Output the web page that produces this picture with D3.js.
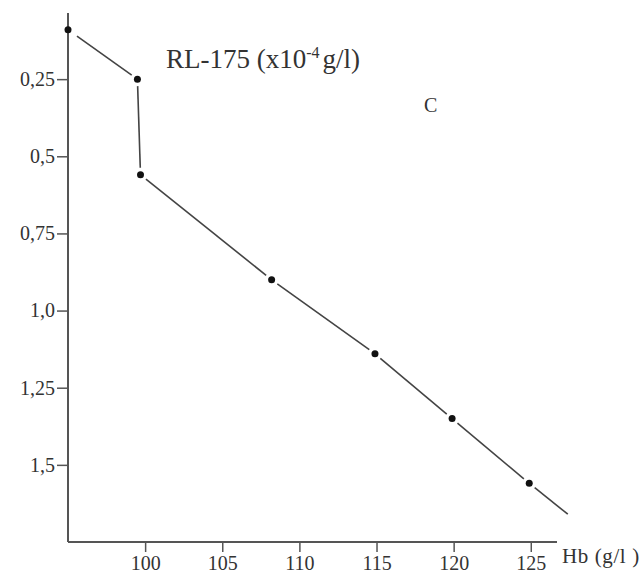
<!DOCTYPE html>
<html>
<head>
<meta charset="utf-8">
<script src="https://cdn.jsdelivr.net/npm/d3@7"></script>
<style>
    html, body { margin: 0; padding: 0; background: #fff; }
    svg { display: block; font-family: "Liberation Serif", "DejaVu Serif", serif; }
</style>
</head>
<body>
<div id="chart"></div>
<script>
// Data
const hbValues = [95, 99.5, 99.7, 108.2, 114.9, 119.9, 124.9];
const rlValues = [0.09, 0.25, 0.56, 0.90, 1.14, 1.35, 1.56];
// where the drawn trend line runs out past the last point
const trendEnd = [127.4, 1.66];

const xTicks = [100, 105, 110, 115, 120, 125];
const yTicks = [0.25, 0.5, 0.75, 1.0, 1.25, 1.5];
const yTickLabels = ['0,25', '0,5', '0,75', '1,0', '1,25', '1,5'];

const width = 643, height = 574;

const svg = d3.select('#chart')
    .append('svg')
    .attr('width', width)
    .attr('height', height);

const x = d3.scaleLinear().domain([95, 126.7]).range([68, 557]);
const y = d3.scaleLinear().domain([0, 1.75]).range([2, 542]);

const axisColor = '#555';
const textColor = '#333';

// Y axis
const yAxis = svg.append('g')
    .attr('transform', `translate(${x(95)},0)`)
    .call(d3.axisLeft(y).tickValues(yTicks).tickSize(11).tickPadding(2)
        .tickFormat((d, i) => yTickLabels[i]));
yAxis.select('.domain').remove();
yAxis.selectAll('line').attr('stroke', axisColor).attr('stroke-width', 1.5);
yAxis.selectAll('text')
    .attr('fill', textColor)
    .style('font-size', '20px')
    .style('font-family', '"Liberation Serif", serif');

svg.append('line')
    .attr('x1', x(95)).attr('x2', x(95))
    .attr('y1', y(0.036)).attr('y2', y(1.75))
    .attr('stroke', axisColor).attr('stroke-width', 2);

// X axis
const xAxis = svg.append('g')
    .attr('transform', `translate(0,${y(1.75)})`)
    .call(d3.axisBottom(x).tickValues(xTicks).tickSize(10).tickPadding(4));
xAxis.select('.domain').remove();
xAxis.selectAll('line').attr('stroke', axisColor).attr('stroke-width', 1.5);
xAxis.selectAll('text')
    .attr('fill', textColor)
    .style('font-size', '20px')
    .style('font-family', '"Liberation Serif", serif');

svg.append('line')
    .attr('x1', x(95)).attr('x2', x(126.7))
    .attr('y1', y(1.75)).attr('y2', y(1.75))
    .attr('stroke', axisColor).attr('stroke-width', 2);

svg.append('text')
    .attr('x', x(126.7) + 5)
    .attr('y', y(1.75) + 21)
    .attr('fill', textColor)
    .style('font-size', '21px')
    .style('letter-spacing', '0.6px')
    .text('Hb (g/l )');

// Broken line: each segment stops short of the markers
const pts = hbValues.map((h, i) => [x(h), y(rlValues[i])]);
const linePts = pts.concat([[x(trendEnd[0]), y(trendEnd[1])]]);
const gap = 7;
const segs = [];
for (let i = 0; i < linePts.length - 1; i++) {
    const [x0, y0] = linePts[i], [x1, y1] = linePts[i + 1];
    const len = Math.hypot(x1 - x0, y1 - y0);
    const ux = (x1 - x0) / len, uy = (y1 - y0) / len;
    const g0 = i === 0 ? 11 : gap;
    const g1 = i + 1 < pts.length ? gap : 0;
    segs.push([x0 + ux * g0, y0 + uy * g0, x1 - ux * g1, y1 - uy * g1]);
}

svg.selectAll('line.seg')
    .data(segs)
    .enter()
    .append('line')
    .attr('class', 'seg')
    .attr('x1', d => d[0]).attr('y1', d => d[1])
    .attr('x2', d => d[2]).attr('y2', d => d[3])
    .attr('stroke', '#444')
    .attr('stroke-width', 1.6);

svg.selectAll('circle')
    .data(pts)
    .enter()
    .append('circle')
    .attr('cx', d => d[0])
    .attr('cy', d => d[1])
    .attr('r', 3.5)
    .attr('fill', '#111');

// Titles
const title = svg.append('text')
    .attr('x', 166)
    .attr('y', 68)
    .attr('fill', textColor)
    .style('font-size', '27px');
title.append('tspan').text('RL-175 (x10');
title.append('tspan').attr('dy', -10).style('font-size', '16px').text('-4');
title.append('tspan').attr('dy', 10).attr('dx', 3).text('g/l)');

svg.append('text')
    .attr('x', 424)
    .attr('y', 112)
    .attr('fill', textColor)
    .style('font-size', '20px')
    .text('C');
</script>
</body>
</html>
